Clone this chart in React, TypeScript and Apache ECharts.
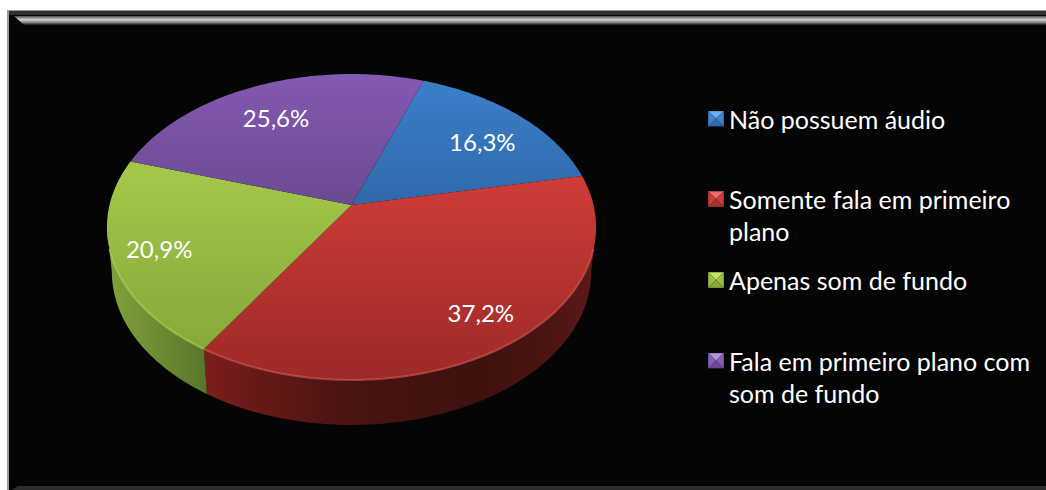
import React, { useEffect, useRef } from "react";
import * as echarts from "echarts";

const categories = [
  "Não possuem áudio",
  "Somente fala em primeiro plano",
  "Apenas som de fundo",
  "Fala em primeiro plano com som de fundo",
];
const shares = [16.3, 37.2, 20.9, 25.6];

// Wrapped legend captions, one entry per line.
const legendLines = [
  ["Não possuem áudio"],
  ["Somente fala em primeiro", "plano"],
  ["Apenas som de fundo"],
  ["Fala em primeiro plano com", "som de fundo"],
];

const FONT = "Lato";
const LINE_HEIGHT = 32;
const legendCenters = [118.5, 199, 280, 360.5];
const labelRadii = [0.73, 0.813, 0.813, 0.726];
const labelTurns = [2.9, -2, -0.3, -1.7];

const topStops = [
  ["#3c80cc", "#1e4a7d"],
  ["#e84540", "#9c2a28"],
  ["#b1d851", "#81a337"],
  ["#8459b2", "#4a3663"],
];
const wallStops: [number, string][][] = [
  [[0, "#24507f"], [1, "#24507f"]],
  [
    [0, "#7c1f1d"],
    [0.12, "#691a18"],
    [0.35, "#4a1412"],
    [0.7, "#3f110f"],
    [0.9, "#4c1513"],
    [1, "#5e1a18"],
  ],
  [
    [0, "#80a23c"],
    [0.45, "#6f8f33"],
    [1, "#5a782a"],
  ],
  [[0, "#4b3468"], [1, "#4b3468"]],
];
const rimColors = ["#5b9de0", "#e0625c", "#bfe06a", "#a27fcc"];
const iconShades = [
  ["#6db2f0", "#3f82cc", "#2f6cae", "#27578e"],
  ["#ee6a64", "#c93c38", "#a83030", "#7c2422"],
  ["#c3e070", "#9abf44", "#84a63a", "#64802a"],
  ["#b594e2", "#8560b4", "#6c4c98", "#533a78"],
];

// Perspective projection of the unit disc onto the page.
const CX = 351.5;
const CY = 205;
const AX = 242;
const BY = 149.8;
const K = -0.1438;
const DEPTH = 45;
const LOWER_RIM_SCALE = 0.98;
const START_DEG = 19.8;
const RIM_FRONT_COS = 0.1438;
const RIM_TRIM_DEG = 8;

const project = (deg: number, r: number): [number, number] => {
  const t = (deg * Math.PI) / 180;
  const u = r * Math.sin(t);
  const v = -r * Math.cos(t);
  const d = 1 + K * v;
  return [CX + (AX * u) / d, CY + (BY * v) / d];
};

const arcPoints = (from: number, to: number) => {
  const pts: [number, number][] = [];
  const n = Math.max(2, Math.ceil(to - from));
  for (let i = 0; i <= n; i++) pts.push(project(from + ((to - from) * i) / n, 1));
  return pts;
};

const total = shares.reduce((a, b) => a + b, 0);
const frontFrom = (Math.acos(-RIM_FRONT_COS) * 180) / Math.PI;
const frontTo = 360 - frontFrom;

const iconUri = (c: string[]) =>
  "image://data:image/svg+xml;utf8," +
  encodeURIComponent(
    `<svg xmlns="http://www.w3.org/2000/svg" width="16" height="16">` +
      `<polygon points="0,0 16,0 8,8" fill="${c[0]}"/>` +
      `<polygon points="0,0 8,8 0,16" fill="${c[1]}"/>` +
      `<polygon points="16,0 8,8 16,16" fill="${c[1]}"/>` +
      `<polygon points="8,8 0,16 16,16" fill="${c[2]}"/>` +
      `<rect x="0.5" y="0.5" width="15" height="15" fill="none" stroke="${c[3]}" stroke-opacity="0.5"/>` +
      `</svg>`
  );

const sliceRenderer = (index: number) => () => {
  const before = shares.slice(0, index).reduce((a, b) => a + b, 0);
  const from = START_DEG + (before / total) * 360;
  const to = from + (shares[index] / total) * 360;
  const children: any[] = [];

  const wallFrom = Math.max(from, frontFrom);
  const wallTo = Math.min(to, frontTo);
  if (wallTo > wallFrom) {
    const rim = arcPoints(wallFrom, wallTo);
    const low = rim
      .slice()
      .reverse()
      .map(([x, y]) => [CX + (x - CX) * LOWER_RIM_SCALE, y + DEPTH]);
    const xs = rim.map((p) => p[0]);
    const fill = new echarts.graphic.LinearGradient(
      Math.min(...xs), 0, Math.max(...xs), 0,
      wallStops[index].map(([offset, color]) => ({ offset, color })),
      true
    );
    children.push({ type: "polygon", shape: { points: [...rim, ...low] }, style: { fill } });
  }

  const top = new echarts.graphic.LinearGradient(
    0, 74, 0, 380,
    [
      { offset: 0, color: topStops[index][0] },
      { offset: 1, color: topStops[index][1] },
    ],
    true
  );
  children.push({
    type: "polygon",
    shape: { points: [[CX, CY], ...arcPoints(from, to)] },
    style: { fill: top },
  });

  if (wallTo > wallFrom) {
    // The highlight stops short of the side extremes, where the wall turns away.
    const rimFrom = Math.max(wallFrom, frontFrom + RIM_TRIM_DEG);
    const rimTo = Math.min(wallTo, frontTo - RIM_TRIM_DEG);
    children.push({
      type: "polyline",
      shape: { points: arcPoints(rimFrom, rimTo) },
      style: { fill: "none", stroke: rimColors[index], lineWidth: 2, opacity: 0.55 },
    });
  }

  const [lx, ly] = project((from + to) / 2 + labelTurns[index], labelRadii[index]);
  children.push({
    type: "text",
    x: lx,
    y: ly,
    style: {
      text: shares[index].toFixed(1).replace(".", ",") + "%",
      fill: "#ffffff",
      font: `24px ${FONT}`,
      align: "center",
      verticalAlign: "middle",
    },
  });
  return { type: "group", children };
};

const frameGraphics = () => [
  { type: "rect", z: -10, shape: { x: 7, y: 10, width: 1039, height: 480 }, style: { fill: "#9a9a9a" } },
  { type: "rect", z: -9, shape: { x: 9, y: 11, width: 1037, height: 479 }, style: { fill: "#050505" } },
  { type: "rect", z: -9, shape: { x: 9, y: 11, width: 1037, height: 4 }, style: { fill: "#303030" } },
  {
    type: "polygon",
    z: -8,
    shape: { points: [[14, 16], [1046, 16], [1046, 25], [24, 25]] },
    style: {
      fill: new echarts.graphic.LinearGradient(
        0, 16, 0, 25,
        [
          { offset: 0, color: "#4a4a4a" },
          { offset: 0.4, color: "#d0d0d0" },
          { offset: 0.7, color: "#8a8a8a" },
          { offset: 1, color: "#141414" },
        ],
        true
      ),
    },
  },
  {
    type: "polygon",
    z: -8,
    shape: { points: [[18, 486], [1046, 486], [1046, 490], [12, 490]] },
    style: { fill: "#2c2c2c" },
  },
];

export default function App() {
  const ref = useRef<HTMLDivElement>(null);

  useEffect(() => {
    const chart = echarts.init(ref.current!, undefined, { renderer: "svg" });
    chart.setOption({
      animation: false,
      backgroundColor: "#ffffff",
      graphic: { elements: frameGraphics() },
      legend: categories.map((name, i) => {
        const lines = legendLines[i];
        // A blank leading line keeps the marker level with the caption's first line.
        const rows = lines.length > 1 ? ["", ...lines] : lines;
        return {
          show: true,
          left: 708,
          top: legendCenters[i] - (rows.length * LINE_HEIGHT) / 2,
          padding: 0,
          data: [{ name, icon: iconUri(iconShades[i]) }],
          itemWidth: 16,
          itemHeight: 16,
          selectedMode: false,
          formatter: () => rows.join("\n"),
          textStyle: {
            color: "#ffffff",
            fontFamily: FONT,
            fontSize: 25,
            lineHeight: LINE_HEIGHT,
          },
        };
      }),
      series: categories.map((name, i) => ({
        type: "custom",
        name,
        coordinateSystem: "none",
        data: [[shares[i]]],
        renderItem: sliceRenderer(i),
        silent: true,
      })),
    });
    return () => chart.dispose();
  }, []);

  return (
    <div
      ref={ref}
      style={{ position: "absolute", left: 0, top: 0, width: 1046, height: 490 }}
    />
  );
}
